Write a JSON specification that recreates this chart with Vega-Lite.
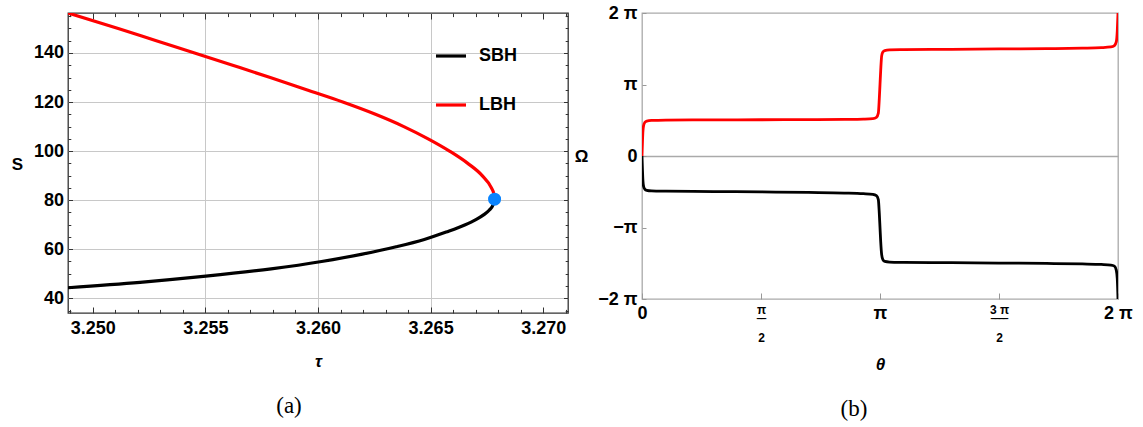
{
  "$schema": "https://vega.github.io/schema/vega-lite/v6.json",
  "background": "white",
  "padding": {"left": 10, "top": 3, "right": 5, "bottom": 5},
  "config": {
    "font": "Liberation Sans",
    "axis": {"labelFont": "Liberation Sans", "labelFontWeight": "bold", "labelFontSize": 18, "labelColor": "#000000", "titleFont": "Liberation Sans", "titleFontWeight": "bold", "titleFontSize": 17, "titleColor": "#000000", "domain": false, "labelOverlap": false, "labelFlush": false},
    "concat": {"spacing": 3}
  },
  "resolve": {"scale": {"color": "independent"}, "legend": {"color": "independent"}},
  "hconcat": [
    {
      "width": 500,
      "height": 300,
      "view": {"stroke": "#333333", "strokeWidth": 1.3},
      "title": {"text": "(a)", "orient": "bottom", "anchor": "middle", "frame": "group", "font": "Liberation Serif", "fontSize": 23, "fontWeight": "normal", "color": "#000000", "offset": 26, "dx": -29},
      "layer": [
        {
          "data": {"values": [
            {"branch": "SBH", "tau": 3.2489, "S": 44.3},
            {"branch": "SBH", "tau": 3.2521, "S": 46.5},
            {"branch": "SBH", "tau": 3.25502, "S": 49.0},
            {"branch": "SBH", "tau": 3.25792, "S": 52.0},
            {"branch": "SBH", "tau": 3.26016, "S": 55.0},
            {"branch": "SBH", "tau": 3.26197, "S": 58.0},
            {"branch": "SBH", "tau": 3.26347, "S": 61.0},
            {"branch": "SBH", "tau": 3.26472, "S": 64.0},
            {"branch": "SBH", "tau": 3.26569, "S": 67.0},
            {"branch": "SBH", "tau": 3.26654, "S": 70.0},
            {"branch": "SBH", "tau": 3.26699, "S": 72.0},
            {"branch": "SBH", "tau": 3.26735, "S": 74.0},
            {"branch": "SBH", "tau": 3.26761, "S": 76.0},
            {"branch": "SBH", "tau": 3.26777, "S": 78.0},
            {"branch": "SBH", "tau": 3.26784, "S": 80.4},
            {"branch": "LBH", "tau": 3.26784, "S": 80.4},
            {"branch": "LBH", "tau": 3.26781, "S": 82.5},
            {"branch": "LBH", "tau": 3.2677, "S": 85.0},
            {"branch": "LBH", "tau": 3.26729, "S": 90.0},
            {"branch": "LBH", "tau": 3.26665, "S": 95.0},
            {"branch": "LBH", "tau": 3.26584, "S": 100.0},
            {"branch": "LBH", "tau": 3.26489, "S": 105.0},
            {"branch": "LBH", "tau": 3.26381, "S": 110.0},
            {"branch": "LBH", "tau": 3.26255, "S": 115.0},
            {"branch": "LBH", "tau": 3.2611, "S": 120.0},
            {"branch": "LBH", "tau": 3.25949, "S": 125.0},
            {"branch": "LBH", "tau": 3.25788, "S": 130.0},
            {"branch": "LBH", "tau": 3.25621, "S": 135.0},
            {"branch": "LBH", "tau": 3.25452, "S": 140.0},
            {"branch": "LBH", "tau": 3.25282, "S": 145.0},
            {"branch": "LBH", "tau": 3.25113, "S": 150.0},
            {"branch": "LBH", "tau": 3.2489, "S": 156.3}
          ]},
          "mark": {"type": "line", "strokeWidth": 3.2, "interpolate": "monotone", "clip": true},
          "encoding": {
            "x": {"field": "tau", "type": "quantitative",
              "scale": {"domain": [3.2489, 3.2711], "nice": false, "zero": false},
              "axis": {"orient": "bottom",
                "values": [3.249, 3.25, 3.251, 3.252, 3.253, 3.254, 3.255, 3.256, 3.257, 3.258, 3.259, 3.26, 3.261, 3.262, 3.263, 3.264, 3.265, 3.266, 3.267, 3.268, 3.269, 3.27, 3.271],
                "tickSize": {"condition": {"test": "abs(datum.value*200-round(datum.value*200))<0.01", "value": -6}, "value": -3.6},
                "tickColor": "#333333",
                "labelExpr": "abs(datum.value*200-round(datum.value*200))<0.01 ? format(datum.value,'.3f') : ''",
                "labelPadding": 12,
                "grid": true, "gridColor": "#c8c8c8",
                "gridOpacity": {"condition": {"test": "datum.value>3.2525 && datum.value<3.2675 && abs(datum.value*200-round(datum.value*200))<0.01", "value": 1}, "value": 0},
                "title": "τ", "titleFontStyle": "italic", "titleX": 250, "titleY": 48, "titleBaseline": "middle", "titleAlign": "center"}},
            "y": {"field": "S", "type": "quantitative",
              "scale": {"domain": [34, 156.3], "nice": false, "zero": false},
              "axis": {"orient": "left",
                "values": [35, 40, 45, 50, 55, 60, 65, 70, 75, 80, 85, 90, 95, 100, 105, 110, 115, 120, 125, 130, 135, 140, 145, 150, 155],
                "tickSize": {"condition": {"test": "datum.value % 20 == 0", "value": -4.5}, "value": -2.8},
                "tickColor": "#333333",
                "labelExpr": "datum.value % 20 == 0 ? datum.label : ''",
                "labelPadding": 9,
                "grid": true, "gridColor": "#c8c8c8",
                "gridOpacity": {"condition": {"test": "datum.value % 20 == 0", "value": 1}, "value": 0},
                "title": "S", "titleAngle": 0, "titleX": -51, "titleY": 151, "titleAlign": "center", "titleBaseline": "middle"}},
            "color": {"field": "branch", "type": "nominal",
              "scale": {"domain": ["SBH", "LBH"], "range": ["#000000", "#ff0000"]},
              "legend": {"orient": "none", "legendX": 366, "legendY": 26, "title": null, "symbolType": "stroke", "symbolSize": 900, "symbolStrokeWidth": 3.2, "labelFont": "Liberation Sans", "labelFontSize": 18, "labelFontWeight": "bold", "labelColor": "#000000", "labelOffset": 11, "rowPadding": 23, "padding": 0}}
          }
        },
        {
          "data": {"values": [{"tau": 3.26784, "S": 80.4}]},
          "mark": {"type": "circle", "size": 170, "color": "#0a84ff", "opacity": 1},
          "encoding": {
            "x": {"field": "tau", "type": "quantitative",
              "axis": {"orient": "top", "labels": false, "grid": false, "title": null,
                "values": [3.249, 3.25, 3.251, 3.252, 3.253, 3.254, 3.255, 3.256, 3.257, 3.258, 3.259, 3.26, 3.261, 3.262, 3.263, 3.264, 3.265, 3.266, 3.267, 3.268, 3.269, 3.27, 3.271],
                "tickSize": {"condition": {"test": "abs(datum.value*200-round(datum.value*200))<0.01", "value": -6}, "value": -3.6},
                "tickColor": "#333333"}},
            "y": {"field": "S", "type": "quantitative",
              "axis": {"orient": "right", "labels": false, "grid": false, "title": null,
                "values": [35, 40, 45, 50, 55, 60, 65, 70, 75, 80, 85, 90, 95, 100, 105, 110, 115, 120, 125, 130, 135, 140, 145, 150, 155],
                "tickSize": {"condition": {"test": "datum.value % 20 == 0", "value": -4.5}, "value": -2.8},
                "tickColor": "#333333"}}
          }
        }
      ],
      "resolve": {"axis": {"x": "independent", "y": "independent"}}
    },
    {
      "width": 476,
      "height": 286,
      "view": {"stroke": "#aaaaaa", "strokeWidth": 1.3},
      "title": {"text": "(b)", "orient": "bottom", "anchor": "middle", "frame": "group", "font": "Liberation Serif", "fontSize": 23, "fontWeight": "normal", "color": "#000000", "offset": 26, "dx": -26},
      "data": {"values": [
        {"branch": "SBH", "theta_pi": 0, "omega_pi": 0},
        {"branch": "SBH", "theta_pi": 0.002, "omega_pi": -0.2},
        {"branch": "SBH", "theta_pi": 0.004, "omega_pi": -0.35},
        {"branch": "SBH", "theta_pi": 0.007, "omega_pi": -0.43},
        {"branch": "SBH", "theta_pi": 0.012, "omega_pi": -0.465},
        {"branch": "SBH", "theta_pi": 0.02, "omega_pi": -0.48},
        {"branch": "SBH", "theta_pi": 0.04, "omega_pi": -0.488},
        {"branch": "SBH", "theta_pi": 0.1, "omega_pi": -0.492},
        {"branch": "SBH", "theta_pi": 0.3, "omega_pi": -0.497},
        {"branch": "SBH", "theta_pi": 0.5, "omega_pi": -0.502},
        {"branch": "SBH", "theta_pi": 0.7, "omega_pi": -0.51},
        {"branch": "SBH", "theta_pi": 0.85, "omega_pi": -0.518},
        {"branch": "SBH", "theta_pi": 0.93, "omega_pi": -0.527},
        {"branch": "SBH", "theta_pi": 0.97, "omega_pi": -0.537},
        {"branch": "SBH", "theta_pi": 0.985, "omega_pi": -0.555},
        {"branch": "SBH", "theta_pi": 0.993, "omega_pi": -0.61},
        {"branch": "SBH", "theta_pi": 0.997, "omega_pi": -0.8},
        {"branch": "SBH", "theta_pi": 1.0, "omega_pi": -1.0},
        {"branch": "SBH", "theta_pi": 1.003, "omega_pi": -1.2},
        {"branch": "SBH", "theta_pi": 1.007, "omega_pi": -1.38},
        {"branch": "SBH", "theta_pi": 1.012, "omega_pi": -1.45},
        {"branch": "SBH", "theta_pi": 1.02, "omega_pi": -1.475},
        {"branch": "SBH", "theta_pi": 1.04, "omega_pi": -1.483},
        {"branch": "SBH", "theta_pi": 1.1, "omega_pi": -1.487},
        {"branch": "SBH", "theta_pi": 1.3, "omega_pi": -1.492},
        {"branch": "SBH", "theta_pi": 1.5, "omega_pi": -1.497},
        {"branch": "SBH", "theta_pi": 1.7, "omega_pi": -1.503},
        {"branch": "SBH", "theta_pi": 1.85, "omega_pi": -1.51},
        {"branch": "SBH", "theta_pi": 1.93, "omega_pi": -1.517},
        {"branch": "SBH", "theta_pi": 1.97, "omega_pi": -1.525},
        {"branch": "SBH", "theta_pi": 1.985, "omega_pi": -1.54},
        {"branch": "SBH", "theta_pi": 1.993, "omega_pi": -1.6},
        {"branch": "SBH", "theta_pi": 1.997, "omega_pi": -1.72},
        {"branch": "SBH", "theta_pi": 2.0, "omega_pi": -2.0},
        {"branch": "LBH", "theta_pi": 0, "omega_pi": 0},
        {"branch": "LBH", "theta_pi": 0.002, "omega_pi": 0.2},
        {"branch": "LBH", "theta_pi": 0.004, "omega_pi": 0.35},
        {"branch": "LBH", "theta_pi": 0.007, "omega_pi": 0.43},
        {"branch": "LBH", "theta_pi": 0.012, "omega_pi": 0.47},
        {"branch": "LBH", "theta_pi": 0.02, "omega_pi": 0.488},
        {"branch": "LBH", "theta_pi": 0.04, "omega_pi": 0.497},
        {"branch": "LBH", "theta_pi": 0.1, "omega_pi": 0.502},
        {"branch": "LBH", "theta_pi": 0.3, "omega_pi": 0.505},
        {"branch": "LBH", "theta_pi": 0.5, "omega_pi": 0.507},
        {"branch": "LBH", "theta_pi": 0.7, "omega_pi": 0.509},
        {"branch": "LBH", "theta_pi": 0.85, "omega_pi": 0.512},
        {"branch": "LBH", "theta_pi": 0.93, "omega_pi": 0.516},
        {"branch": "LBH", "theta_pi": 0.97, "omega_pi": 0.522},
        {"branch": "LBH", "theta_pi": 0.985, "omega_pi": 0.54},
        {"branch": "LBH", "theta_pi": 0.993, "omega_pi": 0.6},
        {"branch": "LBH", "theta_pi": 0.997, "omega_pi": 0.8},
        {"branch": "LBH", "theta_pi": 1.0, "omega_pi": 1.0},
        {"branch": "LBH", "theta_pi": 1.003, "omega_pi": 1.2},
        {"branch": "LBH", "theta_pi": 1.007, "omega_pi": 1.4},
        {"branch": "LBH", "theta_pi": 1.012, "omega_pi": 1.455},
        {"branch": "LBH", "theta_pi": 1.02, "omega_pi": 1.475},
        {"branch": "LBH", "theta_pi": 1.04, "omega_pi": 1.483},
        {"branch": "LBH", "theta_pi": 1.1, "omega_pi": 1.487},
        {"branch": "LBH", "theta_pi": 1.3, "omega_pi": 1.492},
        {"branch": "LBH", "theta_pi": 1.5, "omega_pi": 1.497},
        {"branch": "LBH", "theta_pi": 1.7, "omega_pi": 1.502},
        {"branch": "LBH", "theta_pi": 1.85, "omega_pi": 1.508},
        {"branch": "LBH", "theta_pi": 1.93, "omega_pi": 1.515},
        {"branch": "LBH", "theta_pi": 1.97, "omega_pi": 1.525},
        {"branch": "LBH", "theta_pi": 1.985, "omega_pi": 1.545},
        {"branch": "LBH", "theta_pi": 1.993, "omega_pi": 1.6},
        {"branch": "LBH", "theta_pi": 1.997, "omega_pi": 1.75},
        {"branch": "LBH", "theta_pi": 2.0, "omega_pi": 2.0}
      ]},
      "mark": {"type": "line", "strokeWidth": 2.8, "interpolate": "monotone", "clip": true},
      "encoding": {
        "x": {"field": "theta_pi", "type": "quantitative",
          "scale": {"domain": [0, 2], "nice": false, "zero": false},
          "axis": {"orient": "bottom", "values": [0, 0.5, 1, 1.5, 2],
            "tickSize": -6, "tickColor": "#999999",
            "labelExpr": "datum.value==0 ? '0' : datum.value==0.5 ? ['π','‾‾','2'] : datum.value==1 ? 'π' : datum.value==1.5 ? ['3 π','‾‾‾‾','2'] : '2 π'",
            "labelFontSize": {"condition": {"test": "datum.value==0.5 || datum.value==1.5", "value": 12}, "value": 18},
            "labelLineHeight": 14,
            "labelBaseline": "top",
            "labelPadding": 11,
            "grid": false,
            "title": "θ", "titleFontStyle": "italic", "titleX": 238, "titleY": 65, "titleBaseline": "middle", "titleAlign": "center"}},
        "y": {"field": "omega_pi", "type": "quantitative",
          "scale": {"domain": [-2, 2], "nice": false, "zero": false},
          "axis": {"orient": "left", "values": [-2, -1, 0, 1, 2],
            "tickSize": -4, "tickColor": "#999999",
            "labelExpr": "datum.value==0 ? '0' : datum.value==1 ? 'π' : datum.value==-1 ? '−π' : datum.value==2 ? '2 π' : '−2 π'",
            "labelPadding": 9,
            "grid": true, "gridColor": "#aaaaaa", "gridWidth": 1.3,
            "gridOpacity": {"condition": {"test": "datum.value == 0", "value": 1}, "value": 0},
            "title": "Ω", "titleAngle": 0, "titleX": -61, "titleY": 143, "titleAlign": "center", "titleBaseline": "middle"}},
        "color": {"field": "branch", "type": "nominal",
          "scale": {"domain": ["SBH", "LBH"], "range": ["#000000", "#ff0000"]},
          "legend": null}
      }
    }
  ]
}
